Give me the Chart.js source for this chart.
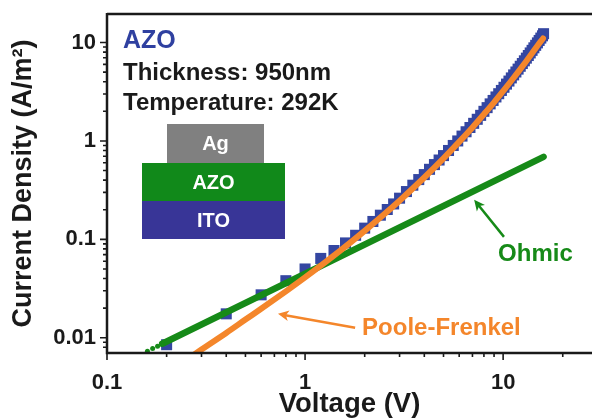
<!DOCTYPE html>
<html lang="en">
<head>
<meta charset="UTF-8">
<title>AZO J-V</title>
<script src="https://cdn.jsdelivr.net/npm/chart.js@4"></script>
<style>
  html, body { margin: 0; padding: 0; background: #fff; }
</style>
</head>
<body>
<canvas id="jv" width="592" height="418"></canvas>
<script>
// measured J-V points (blue squares)
const measuredV = [0.2, 0.4, 0.6, 0.8, 1.0, 1.2, 1.4, 1.6, 1.8, 2.0, 2.2, 2.4, 2.6, 2.8, 3.0,
  3.25, 3.5, 3.75, 4.0, 4.25, 4.5, 4.75, 5.0, 5.3, 5.6, 5.9, 6.2, 6.5, 6.8, 7.1, 7.4, 7.7,
  8.0, 8.3, 8.6, 8.9, 9.2, 9.5, 9.8, 10.1, 10.4, 10.7, 11.0, 11.3, 11.6, 11.9, 12.2, 12.5,
  12.8, 13.1, 13.4, 13.7, 14.0, 14.3, 14.6, 14.9, 15.2, 15.5, 15.8, 16.0];
const measuredJ = [0.0085, 0.0175, 0.0273, 0.038, 0.050, 0.064, 0.077, 0.092, 0.110, 0.130, 0.152, 0.176, 0.201, 0.229, 0.262,
  0.306, 0.355, 0.405, 0.455, 0.515, 0.575, 0.64, 0.71, 0.80, 0.90, 1.00, 1.12, 1.24, 1.37, 1.51, 1.66, 1.82,
  2.0, 2.18, 2.38, 2.58, 2.80, 3.02, 3.26, 3.51, 3.78, 4.06, 4.37, 4.69, 5.02, 5.37, 5.74, 6.12,
  6.52, 6.94, 7.38, 7.84, 8.33, 8.84, 9.37, 9.92, 10.5, 11.1, 11.7, 12.3];

// Ohmic fit (green)
const ohmicV = [0.16, 0.17, 0.18, 0.19, 16];
const ohmicJ = [0.0073, 0.0078, 0.0082, 0.0087, 0.69];

// Poole-Frenkel fit (orange)
const pfV = [0.26, 0.3, 0.4, 0.5, 0.6, 0.8, 1.0, 1.2, 1.5, 2.0, 2.5, 3.0, 4.0, 5.0, 6.0, 7.0, 8.0, 9.0, 10, 11, 12, 13, 14, 15, 15.9];
const pfJ = [0.0062, 0.0076, 0.0112, 0.0153, 0.0197, 0.0296, 0.041, 0.054, 0.0763, 0.122, 0.1785, 0.247, 0.425, 0.665, 0.978, 1.373, 1.87, 2.47, 3.21, 4.09, 5.13, 6.35, 7.78, 9.44, 11.0];

const xTicks = [0.1, 1, 10];
const yTicks = [0.01, 0.1, 1, 10];
const xMinor = [0.2, 0.3, 0.4, 0.5, 0.6, 0.7, 0.8, 0.9, 2, 3, 4, 5, 6, 7, 8, 9, 20];
const yMinor = [0.008, 0.009, 0.02, 0.03, 0.04, 0.05, 0.06, 0.07, 0.08, 0.09,
  0.2, 0.3, 0.4, 0.5, 0.6, 0.7, 0.8, 0.9, 2, 3, 4, 5, 6, 7, 8, 9];

const FONT = 'Arial, "Liberation Sans", Helvetica, sans-serif';
const INK = '#1a1a1a';
const BLUE = '#3446a1';
const GREEN = '#168a18';
const ORANGE = '#f4862b';

const pts = (xs, ys) => xs.map((v, i) => ({ x: v, y: ys[i] }));
const noPad = s => { s.paddingTop = s.paddingBottom = s.paddingLeft = s.paddingRight = 0; };

// axes frame, tick marks, inset and labels
const decor = {
  id: 'decor',
  afterDraw(chart) {
    const { ctx, chartArea: a, scales: { x, y } } = chart;
    ctx.save();
    ctx.strokeStyle = INK;
    ctx.lineWidth = 2.5;
    ctx.beginPath();
    ctx.moveTo(a.left, a.top); ctx.lineTo(a.right, a.top);
    ctx.moveTo(a.left, a.top - 1); ctx.lineTo(a.left, a.bottom);
    ctx.lineTo(a.right, a.bottom);
    ctx.stroke();

    ctx.lineWidth = 1.6;
    ctx.beginPath();
    xTicks.forEach(v => { const p = x.getPixelForValue(v); ctx.moveTo(p, a.bottom); ctx.lineTo(p, a.bottom + 7); });
    xMinor.forEach(v => { const p = x.getPixelForValue(v); ctx.moveTo(p, a.bottom); ctx.lineTo(p, a.bottom + 4); });
    yTicks.forEach(v => { const p = y.getPixelForValue(v); ctx.moveTo(a.left, p); ctx.lineTo(a.left - 7, p); });
    yMinor.forEach(v => { const p = y.getPixelForValue(v); ctx.moveTo(a.left, p); ctx.lineTo(a.left - 4, p); });
    ctx.stroke();

    // header text
    ctx.textAlign = 'left';
    ctx.textBaseline = 'alphabetic';
    ctx.fillStyle = '#2f40a0';
    ctx.font = 'bold 25px ' + FONT;
    ctx.fillText('AZO', 123, 48);
    ctx.fillStyle = INK;
    ctx.font = 'bold 24px ' + FONT;
    ctx.fillText('Thickness: 950nm', 123, 80);
    ctx.fillText('Temperature: 292K', 123, 110);

    // device stack
    const layers = [
      ['Ag', '#808080', 167, 124, 97, 39],
      ['AZO', '#11891a', 142, 163, 143, 38],
      ['ITO', '#383597', 142, 201, 143, 38]
    ];
    ctx.font = 'bold 20px ' + FONT;
    ctx.textAlign = 'center';
    ctx.textBaseline = 'middle';
    layers.forEach(([t, c, lx, ly, w, h]) => {
      ctx.fillStyle = c;
      ctx.fillRect(lx, ly, w, h);
      ctx.fillStyle = '#fff';
      ctx.fillText(t, lx + w / 2, ly + h / 2 + 1);
    });

    // fit labels with arrows
    const arrow = (x0, y0, x1, y1, col) => {
      const px0 = x.getPixelForValue(x0), py0 = y.getPixelForValue(y0);
      const px1 = x.getPixelForValue(x1), py1 = y.getPixelForValue(y1);
      const ang = Math.atan2(py1 - py0, px1 - px0);
      ctx.strokeStyle = col; ctx.fillStyle = col; ctx.lineWidth = 2.5;
      ctx.beginPath(); ctx.moveTo(px0, py0); ctx.lineTo(px1 - 6 * Math.cos(ang), py1 - 6 * Math.sin(ang)); ctx.stroke();
      ctx.beginPath();
      ctx.moveTo(px1, py1);
      ctx.lineTo(px1 - 12 * Math.cos(ang - 0.45), py1 - 12 * Math.sin(ang - 0.45));
      ctx.lineTo(px1 - 8 * Math.cos(ang), py1 - 8 * Math.sin(ang));
      ctx.lineTo(px1 - 12 * Math.cos(ang + 0.45), py1 - 12 * Math.sin(ang + 0.45));
      ctx.closePath(); ctx.fill();
    };
    arrow(10.1, 0.106, 7.14, 0.252, GREEN);
    arrow(1.79, 0.01264, 0.73, 0.0175, ORANGE);

    ctx.font = 'bold 24px ' + FONT;
    ctx.textAlign = 'left';
    ctx.textBaseline = 'alphabetic';
    ctx.fillStyle = GREEN;
    ctx.fillText('Ohmic', x.getPixelForValue(9.43), y.getPixelForValue(0.0605));
    ctx.fillStyle = ORANGE;
    ctx.fillText('Poole-Frenkel', x.getPixelForValue(1.94), y.getPixelForValue(0.0107));
    ctx.restore();
  }
};

new Chart(document.getElementById('jv'), {
  type: 'scatter',
  data: {
    datasets: [
      {
        label: 'Poole-Frenkel',
        data: pts(pfV, pfJ),
        showLine: true,
        borderColor: ORANGE,
        borderWidth: 6,
        borderCapStyle: 'round',
        cubicInterpolationMode: 'monotone',
        pointRadius: 0,
        clip: 0,
        order: 1
      },
      {
        label: 'Ohmic',
        data: pts(ohmicV, ohmicJ),
        showLine: true,
        borderColor: GREEN,
        borderWidth: 6.5,
        borderCapStyle: 'round',
        pointRadius: ctx => (ctx.dataIndex < 4 ? 2.5 : 0),
        pointBackgroundColor: GREEN,
        pointBorderWidth: 0,
        segment: { borderColor: ctx => (ctx.p0DataIndex < 3 ? 'rgba(0,0,0,0)' : undefined) },
        clip: 0,
        order: 2
      },
      {
        label: 'AZO',
        data: pts(measuredV, measuredJ),
        pointStyle: 'rect',
        pointRadius: 7.8,
        backgroundColor: BLUE,
        borderWidth: 0,
        clip: 0,
        order: 3
      }
    ]
  },
  options: {
    responsive: false,
    animation: false,
    devicePixelRatio: 1,
    layout: { autoPadding: false, padding: { top: 14, right: 0, bottom: 0, left: 0 } },
    plugins: { legend: { display: false }, tooltip: { enabled: false } },
    scales: {
      x: {
        type: 'logarithmic',
        min: 0.1,
        max: 28.1,
        afterFit: s => { s.height = 65; noPad(s); },
        afterBuildTicks: s => { s.ticks = xTicks.map(v => ({ value: v })); },
        grid: { display: false, drawTicks: false },
        border: { display: false },
        ticks: {
          autoSkip: false,
          maxRotation: 0,
          padding: 17,
          color: INK,
          font: { family: FONT, size: 22, weight: 'bold' },
          callback: v => String(v)
        },
        title: {
          display: true,
          text: 'Voltage (V)',
          color: INK,
          font: { family: FONT, size: 27.5, weight: 'bold', lineHeight: 1.0 },
          padding: { top: 0, bottom: 0 }
        }
      },
      y: {
        type: 'logarithmic',
        min: 0.007,
        max: 19.5,
        afterFit: s => { s.width = 107; noPad(s); },
        afterBuildTicks: s => { s.ticks = yTicks.map(v => ({ value: v })); },
        grid: { display: false, drawTicks: false },
        border: { display: false },
        ticks: {
          autoSkip: false,
          padding: 11,
          color: INK,
          font: { family: FONT, size: 22, weight: 'bold' },
          callback: v => String(v)
        },
        title: {
          display: true,
          text: 'Current Density (A/m²)',
          color: INK,
          font: { family: FONT, size: 27, weight: 'bold' },
          padding: { top: 7, bottom: 0 }
        }
      }
    }
  },
  plugins: [decor]
});
</script>
</body>
</html>
